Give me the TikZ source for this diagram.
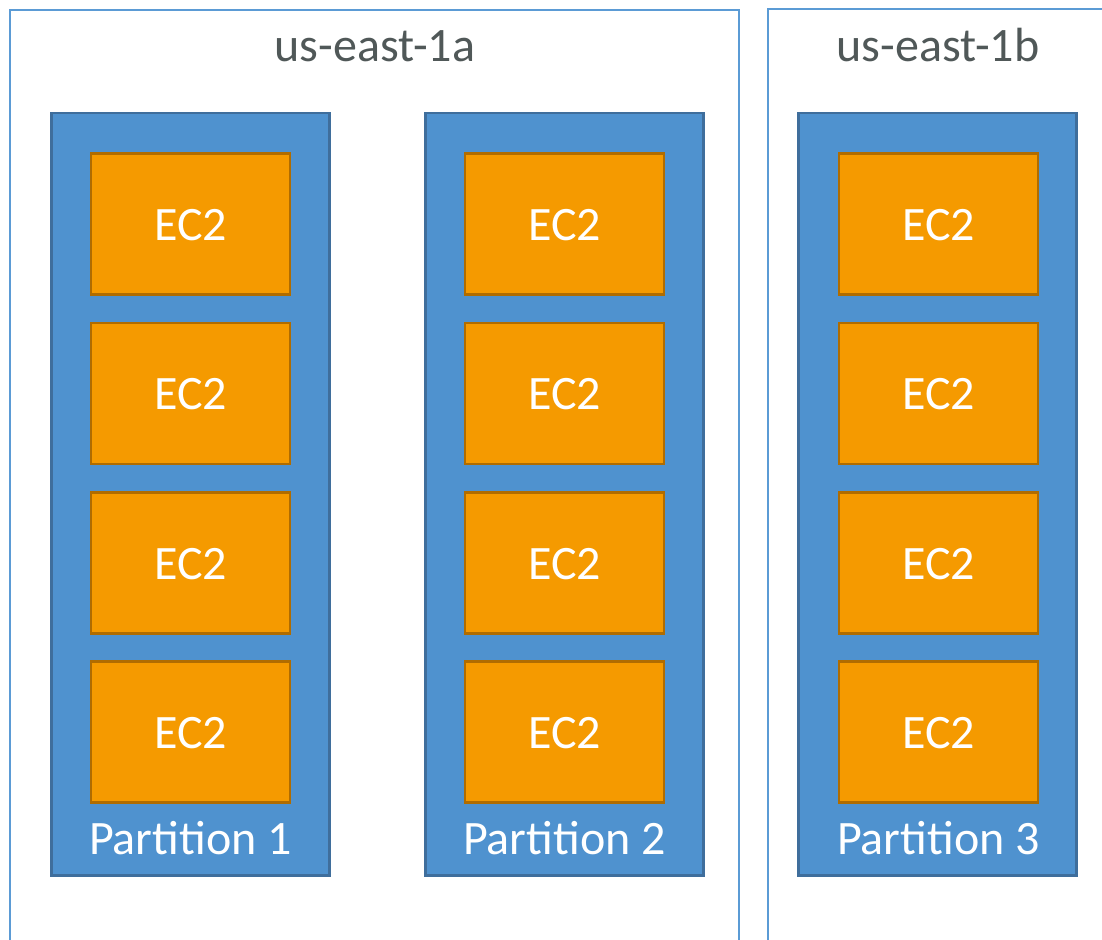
\documentclass[tikz,border=0pt]{standalone}
\usepackage{fontspec}
\setmainfont{Carlito}
\definecolor{azline}{HTML}{5B9BD5}
\definecolor{partfill}{HTML}{4F92CF}
\definecolor{partline}{HTML}{3F6E9C}
\definecolor{ecfill}{HTML}{F59A00}
\definecolor{ecline}{HTML}{B06C00}
\definecolor{aztext}{HTML}{505858}
\tikzset{
  azbox/.style={draw=azline, line width=2.8pt},
  partbox/.style={draw=partline, fill=partfill, line width=2.5pt, minimum width=278pt, minimum height=762pt, inner sep=0pt, anchor=north west},
  ecbox/.style={draw=ecline, fill=ecfill, line width=2.5pt, minimum width=199pt, minimum height=141pt, inner sep=0pt},
  ectext/.style={text=white, font=\fontsize{48}{52}\selectfont, inner sep=0pt, anchor=base},
  partlabel/.style={text=white, font=\fontsize{48}{52}\selectfont, inner sep=0pt, anchor=base},
  azlabel/.style={text=aztext, font=\fontsize{48}{52}\selectfont, inner sep=0pt, anchor=base},
}
\begin{document}
\begin{tikzpicture}[x=1pt,y=-1pt]
\useasboundingbox (0,0) rectangle (1102,939);
\clip (0,0) rectangle (1102,939);
% availability zones
\draw[azbox] (10,950) -- (10,10) -- (739,10) -- (739,950);
\draw[azbox] (768,950) -- (768,9) -- (1120,9) -- (1120,950);
\node[azlabel] (az1) at (375,62) {us-east-1a};
\node[azlabel] (az2) at (938,62) {us-east-1b};
% partitions
\foreach \i/\x/\ex in {1/50/190.5, 2/424/564.5, 3/797/938.5} {
  \node[partbox] (p\i) at (\x,112) {};
  \foreach \r/\cy in {a/224, b/393.5, c/563, d/732} {
    \node[ecbox] (e\i\r) at (\ex,\cy) {};
    \node[ectext] (t\i\r) at ([yshift=-16pt]e\i\r.center) {EC2};
  }
  \node[partlabel] (l\i) at (\ex,854) {Partition \i};
}
\end{tikzpicture}
\end{document}
